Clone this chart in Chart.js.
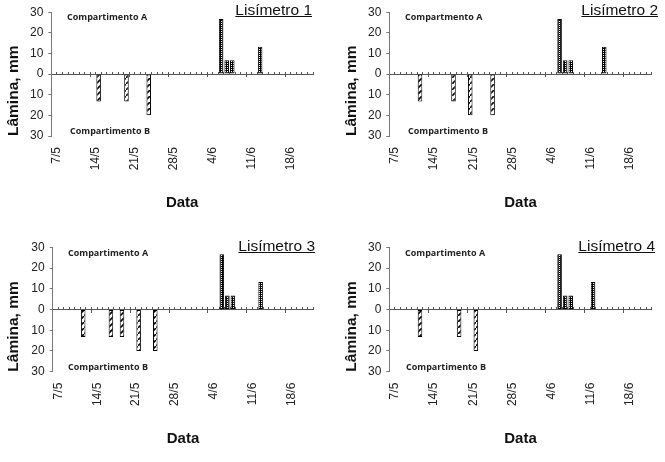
<!DOCTYPE html>
<html lang="pt">
<head>
<meta charset="UTF-8">
<title>Lisímetros - Lâmina drenada</title>
<script src="https://cdn.jsdelivr.net/npm/chart.js"></script>
<style>
  body { margin: 0; background: #fff; }
  #page { position: relative; width: 665px; height: 462px; overflow: hidden; font-family: "Liberation Sans", Arial, sans-serif; }
  #page canvas { position: absolute; }
  .lis { position: absolute; font-size: 15.5px; line-height: 1; text-decoration: underline; color: #111; white-space: nowrap; }
  .comp { position: absolute; font-family: "Open Sans", sans-serif; font-weight: 700; font-size: 9px; line-height: 1; color: #222; white-space: nowrap; }
</style>
</head>
<body>
<div id="page">
  <canvas id="lis1" width="325" height="230" style="left:0;top:0"></canvas>
  <canvas id="lis2" width="325" height="230" style="left:338px;top:0"></canvas>
  <canvas id="lis3" width="325" height="230" style="left:0;top:232px"></canvas>
  <canvas id="lis4" width="325" height="230" style="left:338px;top:232px"></canvas>

  <div class="lis" style="right:353px;top:2px">Lisímetro 1</div>
  <div class="lis" style="right:7px;top:2px">Lisímetro 2</div>
  <div class="lis" style="right:350px;top:238px">Lisímetro 3</div>
  <div class="lis" style="right:10px;top:238px">Lisímetro 4</div>

  <div class="comp" style="left:67px;top:12px">Compartimento A</div>
  <div class="comp" style="left:70px;top:126px">Compartimento B</div>
  <div class="comp" style="left:405px;top:12px">Compartmento A</div>
  <div class="comp" style="left:408px;top:126px">Compartimento B</div>
  <div class="comp" style="left:68px;top:248px">Compartimento A</div>
  <div class="comp" style="left:68px;top:362px">Compartimento B</div>
  <div class="comp" style="left:405px;top:248px">Compartimento A</div>
  <div class="comp" style="left:406px;top:362px">Compartimento B</div>
</div>

<script>
// dias do periodo (eixo de categorias)
const dias = ['7/5','8/5','9/5','10/5','11/5','12/5','13/5','14/5','15/5','16/5','17/5','18/5','19/5',
  '20/5','21/5','22/5','23/5','24/5','25/5','26/5','27/5','28/5','29/5','30/5','31/5',
  '1/6','2/6','3/6','4/6','5/6','6/6','7/6','8/6','9/6','10/6','11/6','12/6','13/6','14/6',
  '15/6','16/6','17/6','18/6','19/6','20/6','21/6','22/6'];
const diasRotulo = ['7/5','14/5','21/5','28/5','4/6','11/6','18/6'];
const yTicks = [-30, -20, -10, 0, 10, 20, 30];

// compartimento A (para cima) e B (para baixo, negativo)
const lis1DiasA = ['6/6','7/6','8/6','13/6'];
const lis1ValA  = [26.7, 6.7, 6.7, 13.3];
const lis1DiasB = ['15/5','20/5','24/5'];
const lis1ValB  = [-13.3, -13.3, -20];

const lis2DiasA = ['6/6','7/6','8/6','14/6'];
const lis2ValA  = [26.7, 6.7, 6.7, 13.3];
const lis2DiasB = ['12/5','18/5','21/5','25/5'];
const lis2ValB  = [-13.3, -13.3, -20, -20];

const lis3DiasA = ['6/6','7/6','8/6','13/6'];
const lis3ValA  = [26.7, 6.7, 6.7, 13.3];
const lis3DiasB = ['12/5','17/5','19/5','22/5','25/5'];
const lis3ValB  = [-13.3, -13.3, -13.3, -20, -20];

const lis4DiasA = ['6/6','7/6','8/6','12/6'];
const lis4ValA  = [26.7, 6.7, 6.7, 13.3];
const lis4DiasB = ['12/5','19/5','22/5'];
const lis4ValB  = [-13.3, -13.3, -20];

Chart.defaults.font.family = '"Liberation Sans", Arial, sans-serif';
Chart.defaults.color = '#222';

// quadriculado escuro com pontos brancos
function padraoA(ctx) {
  const c = document.createElement('canvas');
  c.width = 2; c.height = 2;
  const g = c.getContext('2d');
  g.fillStyle = '#000'; g.fillRect(0, 0, 2, 2);
  g.fillStyle = '#fff'; g.fillRect(1, 1, 1, 1);
  return ctx.createPattern(c, 'repeat');
}

// fundo branco com tracos diagonais
function padraoB(ctx) {
  const c = document.createElement('canvas');
  c.width = 6; c.height = 6;
  const g = c.getContext('2d');
  g.fillStyle = '#fff'; g.fillRect(0, 0, 6, 6);
  g.strokeStyle = '#000'; g.lineWidth = 1.6;
  g.beginPath(); g.moveTo(-1, 7); g.lineTo(7, -1); g.stroke();
  return ctx.createPattern(c, 'repeat');
}

function pontos(ds, vs) {
  return ds.map((d, i) => ({ x: d, y: vs[i] }));
}

function painel(id, diasA, valA, diasB, valB, geo) {
  const ctx = document.getElementById(id).getContext('2d');
  const barra = { barPercentage: 0.82, categoryPercentage: 1, borderColor: '#000', borderWidth: 1,
                  borderSkipped: false, grouped: false, xAxisID: 'x', yAxisID: 'y' };
  new Chart(ctx, {
    type: 'bar',
    data: {
      labels: dias,
      datasets: [
        Object.assign({ label: 'Compartimento A', data: pontos(diasA, valA), backgroundColor: padraoA(ctx) }, barra),
        Object.assign({ label: 'Compartimento B', data: pontos(diasB, valB), backgroundColor: padraoB(ctx) }, barra)
      ]
    },
    options: {
      responsive: false,
      animation: false,
      layout: { padding: { top: geo.top, right: geo.right, left: 0, bottom: 0 } },
      plugins: { legend: { display: false }, tooltip: { enabled: false } },
      scales: {
        x: {
          type: 'category', offset: true,
          grid: { display: false, drawTicks: false },
          border: { display: false },
          ticks: {
            autoSkip: false, minRotation: 90, maxRotation: 90, padding: 11, labelOffset: 3,
            font: { size: 12 }, color: '#222',
            callback: function (v) {
              const l = this.getLabelForValue(v);
              return diasRotulo.includes(l) ? l : '';
            }
          },
          title: { display: true, text: 'Data', color: '#111', font: { size: 15, weight: 'bold' },
                   padding: { top: 0, bottom: geo.titleBottom } },
          afterFit: s => { s.height = geo.xh; s.paddingLeft = 0; s.paddingRight = 0; }
        },
        xZero: {
          type: 'category', position: { y: 0 }, offset: true,
          grid: { offset: true, drawOnChartArea: false, tickLength: -3, color: '#555' },
          border: { color: '#555' },
          ticks: { display: false }
        },
        xSemana: {
          type: 'category', position: { y: 0 }, offset: true,
          grid: { offset: true, drawOnChartArea: false, tickLength: 3,
                  color: c => (c.index !== undefined && c.index % 7 === 0) ? '#555' : 'rgba(0,0,0,0)' },
          border: { display: false },
          ticks: { display: false }
        },
        y: {
          min: yTicks[0], max: yTicks[yTicks.length - 1],
          afterBuildTicks: s => { s.ticks = yTicks.map(v => ({ value: v })); },
          ticks: { callback: v => Math.abs(v), font: { size: 12 }, color: '#222', padding: 5 },
          grid: { drawOnChartArea: false, tickLength: 3, color: '#777' },
          border: { color: '#777' },
          title: { display: true, text: 'Lâmina, mm', align: 'start', color: '#111',
                   font: { size: 15.5, weight: 'bold' }, padding: { top: geo.titleLeft, bottom: 0 } },
          afterFit: s => { s.width = geo.yw; }
        }
      }
    }
  });
}

painel('lis1', lis1DiasA, lis1ValA, lis1DiasB, lis1ValB, { top: 11.7, right: 12, yw: 51.3, xh: 94, titleBottom: 18, titleLeft: 4.7 });
painel('lis2', lis2DiasA, lis2ValA, lis2DiasB, lis2ValB, { top: 11.7, right: 11.3, yw: 51.3, xh: 94, titleBottom: 18, titleLeft: 4.4 });
painel('lis3', lis3DiasA, lis3ValA, lis3DiasB, lis3ValB, { top: 15.3, right: 11.7, yw: 52.7, xh: 90.3, titleBottom: 13.7, titleLeft: 4.7 });
painel('lis4', lis4DiasA, lis4ValA, lis4DiasB, lis4ValB, { top: 15.3, right: 11.3, yw: 51.3, xh: 90.3, titleBottom: 13.7, titleLeft: 4.4 });
</script>
</body>
</html>
